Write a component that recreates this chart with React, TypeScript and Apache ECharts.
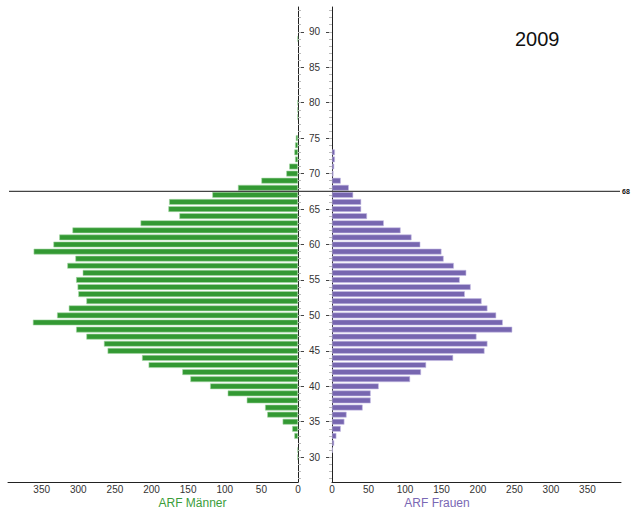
import React, { useEffect, useRef } from 'react';
import * as echarts from 'echarts';

const ages = [
  '27', '28', '29', '30', '31', '32', '33', '34', '35', '36',
  '37', '38', '39', '40', '41', '42', '43', '44', '45', '46',
  '47', '48', '49', '50', '51', '52', '53', '54', '55', '56',
  '57', '58', '59', '60', '61', '62', '63', '64', '65', '66',
  '67', '68', '69', '70', '71', '72', '73', '74', '75', '76',
  '77', '78', '79', '80', '81', '82', '83', '84', '85', '86',
  '87', '88', '89', '90', '91', '92', '93',
];

const maleValues = [
  0, 0, 0, 1, 1, 0, 5, 8, 21, 42,
  45, 70, 96, 120, 147, 158, 204, 213, 260, 265,
  289, 303, 362, 329, 313, 289, 300, 301, 303, 294,
  315, 304, 361, 334, 326, 308, 215, 162, 177, 176,
  117, 82, 50, 16, 12, 4, 5, 4, 3, 0,
  0, 1, 1, 1, 0, 0, 0, 0, 0, 0,
  0, 0, 1, 0, 0, 0, 0,
];

const femaleValues = [
  0, 0, 0, 0, 1, 3, 6, 12, 17, 20,
  42, 53, 53, 64, 107, 122, 129, 166, 209, 213,
  198, 247, 234, 225, 213, 205, 182, 190, 175, 184,
  167, 153, 150, 121, 109, 94, 71, 48, 40, 40,
  29, 23, 12, 2, 3, 4, 4, 0, 0, 0,
  0, 0, 0, 0, 0, 0, 0, 0, 0, 0,
  0, 0, 0, 0, 0, 0, 0,
];

const xTickValues = [0, 50, 100, 150, 200, 250, 300, 350];
const xMax = 396;
const yearLabel = '2009';
const maleName = 'ARF Männer';
const femaleName = 'ARF Frauen';
const markerLabel = '68';
const markerBetween = ['67', '68'];

const FONT = 'Arial, "Liberation Sans", Helvetica, sans-serif';
const GREEN = '#339933';
const PURPLE = '#7766b0';

const isMajor = (_i: number, v: string) => Number(v) % 5 === 0;

export default function App() {
  const ref = useRef<HTMLDivElement>(null);

  useEffect(() => {
    if (!ref.current) return;
    const chart = echarts.init(ref.current, null, { renderer: 'svg' });

    const grids = [
      { left: 8, top: 7, width: 290, height: 475 },
      { left: 332, top: 7, width: 289, height: 475 },
    ];

    const xAxisCommon = {
      type: 'value' as const,
      min: 0,
      max: xMax,
      interval: 50,
      position: 'bottom' as const,
      splitLine: { show: false },
      axisTick: { show: false },
      axisLine: { show: true, lineStyle: { color: '#222', width: 1 } },
      axisLabel: {
        fontSize: 10,
        color: '#333',
        fontFamily: FONT,
        margin: 2,
        formatter: (v: number) => (xTickValues.includes(v) ? String(v) : ''),
      },
    };

    const majorY = (gridIndex: number, position: 'left' | 'right', showLabel: boolean) => ({
      type: 'category' as const,
      gridIndex,
      data: ages,
      position,
      boundaryGap: true,
      axisLine: { show: true, onZero: false, lineStyle: { color: '#222', width: 1 } },
      axisTick: {
        show: true,
        alignWithLabel: true,
        interval: isMajor,
        length: 6,
        lineStyle: { color: '#444', width: 1 },
      },
      axisLabel: {
        show: showLabel,
        interval: isMajor,
        fontSize: 10,
        color: '#333',
        fontFamily: FONT,
        margin: 11,
      },
      splitLine: { show: false },
    });

    const minorY = (gridIndex: number, position: 'left' | 'right') => ({
      type: 'category' as const,
      gridIndex,
      data: ages,
      position,
      boundaryGap: true,
      axisLine: { show: false },
      axisTick: {
        show: true,
        alignWithLabel: true,
        interval: 0,
        length: 3,
        lineStyle: { color: '#bbb', width: 1 },
      },
      axisLabel: { show: false },
      splitLine: { show: false },
    });

    const toBar = (arr: number[]) => arr.map((v) => (v === 0 ? null : v));

    chart.setOption({
      animation: false,
      backgroundColor: '#fff',
      grid: grids,
      xAxis: [
        { ...xAxisCommon, gridIndex: 0, inverse: true },
        { ...xAxisCommon, gridIndex: 1 },
      ],
      yAxis: [
        majorY(0, 'right', true),
        minorY(0, 'right'),
        majorY(1, 'left', false),
        minorY(1, 'left'),
      ],
      series: [
        {
          type: 'bar',
          name: maleName,
          xAxisIndex: 0,
          yAxisIndex: 0,
          data: toBar(maleValues),
          barWidth: 5.8,
          itemStyle: { color: GREEN, borderColor: '#a6d6a6', borderWidth: 0.6 },
        },
        {
          type: 'bar',
          name: femaleName,
          xAxisIndex: 1,
          yAxisIndex: 2,
          data: toBar(femaleValues),
          barWidth: 5.8,
          itemStyle: { color: PURPLE, borderColor: '#c4bce4', borderWidth: 0.6 },
        },
      ],
      graphic: [
        {
          id: 'year',
          type: 'text',
          left: 515,
          top: 29,
          style: { text: yearLabel, fontSize: 20, fill: '#111', fontFamily: FONT },
        },
        {
          id: 'maleName',
          type: 'text',
          x: 192.5,
          y: 503,
          style: {
            text: maleName,
            fontSize: 12,
            fill: '#3a9d3a',
            fontFamily: FONT,
            align: 'center',
            verticalAlign: 'middle',
          },
        },
        {
          id: 'femaleName',
          type: 'text',
          x: 437,
          y: 503,
          style: {
            text: femaleName,
            fontSize: 12,
            fill: '#7a68b4',
            fontFamily: FONT,
            align: 'center',
            verticalAlign: 'middle',
          },
        },
      ],
    });

    const yA = chart.convertToPixel({ yAxisIndex: 0 }, markerBetween[0]) as number;
    const yB = chart.convertToPixel({ yAxisIndex: 0 }, markerBetween[1]) as number;
    const yLine = (yA + yB) / 2;

    chart.setOption({
      graphic: [
        {
          id: 'markerLine',
          type: 'line',
          z: 100,
          shape: { x1: 9, y1: yLine, x2: 620, y2: yLine },
          style: { stroke: '#444', lineWidth: 1.4 },
        },
        {
          id: 'markerText',
          type: 'text',
          z: 100,
          x: 622,
          y: yLine,
          style: {
            text: markerLabel,
            fontSize: 7,
            fontWeight: 'bold',
            fill: '#111',
            fontFamily: FONT,
            align: 'left',
            verticalAlign: 'middle',
          },
        },
      ],
    });

    return () => chart.dispose();
  }, []);

  return (
    <div
      ref={ref}
      style={{ position: 'fixed', left: 0, top: 0, width: 640, height: 524, background: '#fff' }}
    />
  );
}
